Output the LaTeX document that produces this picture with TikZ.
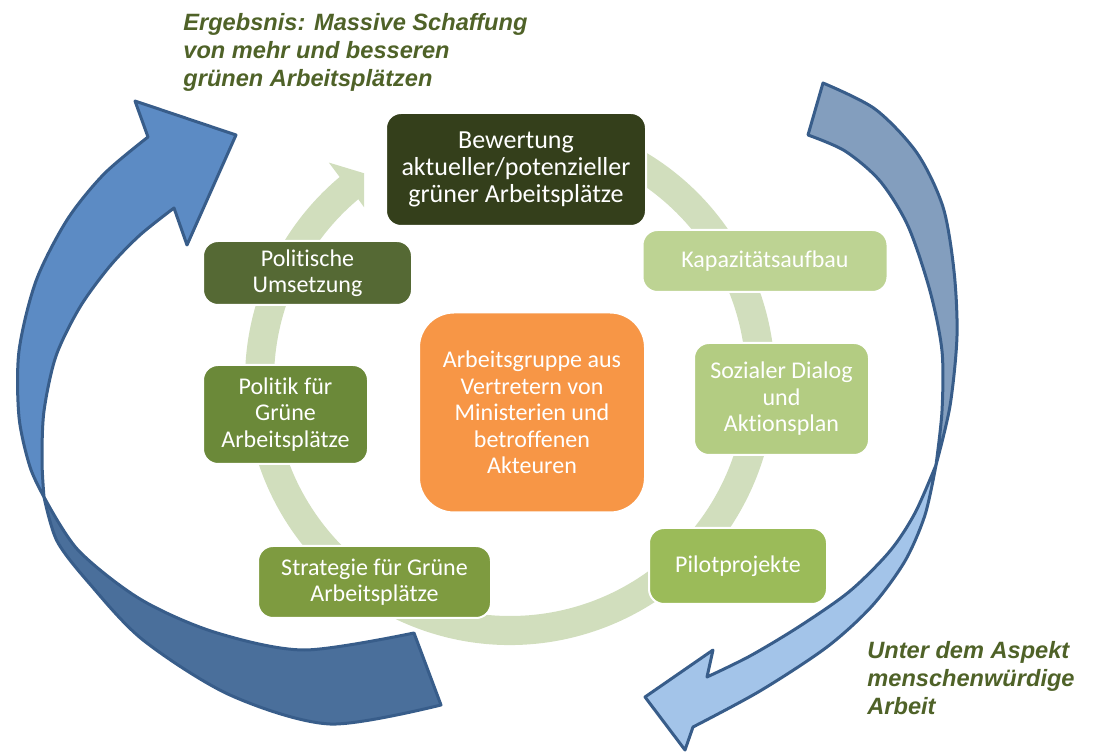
\documentclass[tikz,border=0pt]{standalone}
\usepackage{fontspec}
\setmainfont{Carlito}[Ligatures=CommonOff]
\newfontfamily\notefont{Liberation Sans}

\definecolor{ringgreen}{RGB}{209,222,189}
\definecolor{notegreen}{RGB}{79,98,40}
\definecolor{arrowline}{RGB}{56,93,138}
\definecolor{leftlight}{RGB}{92,139,196}
\definecolor{leftdark}{RGB}{74,111,155}
\definecolor{rightdark}{RGB}{131,158,190}
\definecolor{rightlight}{RGB}{163,196,233}
\definecolor{bewcol}{RGB}{52,63,27}
\definecolor{umscol}{RGB}{85,105,52}
\definecolor{polcol}{RGB}{107,137,57}
\definecolor{strcol}{RGB}{126,155,64}
\definecolor{pilcol}{RGB}{155,187,89}
\definecolor{sozcol}{RGB}{179,204,130}
\definecolor{kapcol}{RGB}{189,211,147}
\definecolor{agcol}{RGB}{247,150,70}

\begin{document}
\begin{tikzpicture}[x=0.5pt,y=0.5pt,line join=round]
  \tikzstyle{box}=[rounded corners=7.5pt,draw=white,line width=1pt,text=white,align=center,inner sep=2pt,font=\fontsize{12}{13.2}\selectfont]
  \tikzstyle{band}=[draw=arrowline,line width=1.5pt]
  \tikzstyle{note}=[anchor=north west,inner sep=0pt,align=left,text=notegreen,font=\notefont\bfseries\itshape\fontsize{11.8}{14}\selectfont]

  \useasboundingbox (0,0) rectangle (1094,751);

  % cycle ring behind the boxes
  \begin{scope}[shift={(510,371)}]
    \fill[ringgreen] (65:265) arc[start angle=65, end angle=-230, radius=265]
      -- (129.8:283) -- (125.2:253) -- (130.2:226) -- (130:236)
      arc[start angle=-230, end angle=65, radius=236] -- cycle;
  \end{scope}

  % left arrow, going up
  \filldraw[band,fill=leftlight]
    plot[smooth] coordinates {(148,614) (104,577) (67,531) (36,470) (19,400) (19,334) (30,284) (44,254)}
    -- plot[smooth] coordinates {(44,254) (42,290) (44,340) (56,395) (80,444) (110,485) (140,516) (174,543)}
    -- (187,506) -- (236,616) -- (135,650) -- cycle;
  \filldraw[band,fill=leftdark]
    plot[smooth] coordinates {(44,254) (78,201) (140,152) (214,119) (304,101) (414,118)}
    -- (441,46)
    -- plot[smooth] coordinates {(441,46) (330,27) (230,56) (143,111) (89,168) (57,210) (44,254)}
    -- cycle;

  % right arrow, going down
  \filldraw[band,fill=rightdark]
    plot[smooth] coordinates {(823,668) (875,642) (917,598) (943,544) (954,480) (957,415) (950,345) (936,286)}
    -- plot[smooth] coordinates {(936,286) (942,340) (942,400) (930,460) (908,525) (880,570) (845,600) (808,616)}
    -- cycle;
  \filldraw[band,fill=rightlight]
    plot[smooth] coordinates {(936,286) (925,236) (905,190) (872,145) (827,104) (760,60) (693,24)}
    -- (685,1) -- (645,54) -- (713,101)
    -- plot[smooth] coordinates {(707,74) (750,95) (800,125) (850,160) (890,200) (915,238) (936,286)}
    -- cycle;

  \node[box,fill=bewcol,minimum width=130pt,minimum height=56.5pt,font=\fontsize{13}{13.5}\selectfont] (bew) at (516,581.5) {Bewertung\\aktueller/potenzieller\\grüner Arbeitsplätze};
  \node[box,fill=kapcol,minimum width=122.5pt,minimum height=31pt] (kap) at (765,490) {Kapazitätsaufbau};
  \node[box,fill=sozcol,minimum width=87.5pt,minimum height=56pt] (soz) at (781.5,352) {Sozialer Dialog\\und\\Aktionsplan};
  \node[box,fill=pilcol,minimum width=89pt,minimum height=38pt] (pil) at (738,185) {Pilotprojekte};
  \node[box,fill=strcol,minimum width=116.5pt,minimum height=36pt] (str) at (374.5,169) {Strategie für Grüne\\Arbeitsplätze};
  \node[box,fill=polcol,minimum width=82.5pt,minimum height=49.5pt] (pol) at (285.5,336.5) {Politik für\\Grüne\\Arbeitsplätze};
  \node[box,fill=umscol,minimum width=104.5pt,minimum height=32pt] (ums) at (307.5,478) {Politische\\Umsetzung};
  \node[box,fill=agcol,rounded corners=17.5pt,minimum width=113pt,minimum height=100pt] (ag) at (532,338.5) {Arbeitsgruppe aus\\Vertretern von\\Ministerien und\\betroffenen\\Akteuren};

  \node[note] (result) at (183,738) {Ergebsnis: Massive Schaffung\\von mehr und besseren\\grünen Arbeitsplätzen};
  \node[note] (aspect) at (867,110) {Unter dem Aspekt\\menschenwürdige\\Arbeit};
\end{tikzpicture}
\end{document}
